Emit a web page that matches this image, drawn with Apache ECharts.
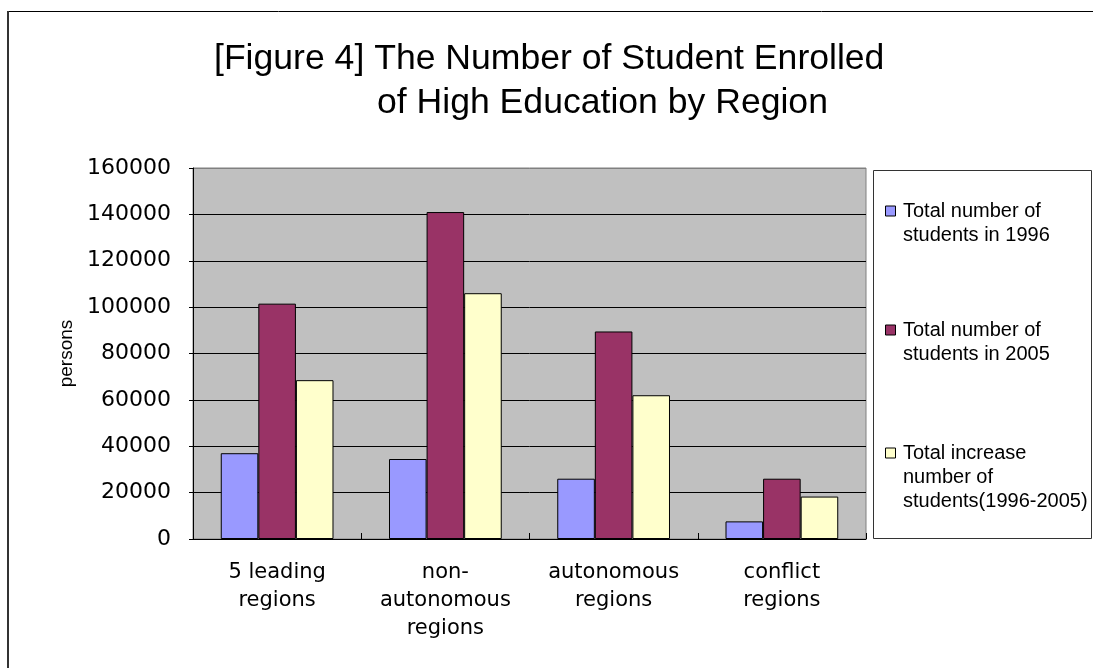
<!DOCTYPE html>
<html>
<head>
<meta charset="utf-8">
<title>Students Enrolled in Higher Education by Region</title>
<script src="https://cdn.jsdelivr.net/npm/echarts@6/dist/echarts.min.js"></script>
<style>
  html, body { margin: 0; padding: 0; background: #ffffff; }
  #chart { width: 1093px; height: 668px; }
</style>
</head>
<body>
<div id="chart"></div>
<script>
// Regions (x-axis categories)
var regions = ['5 leading\nregions', 'non-\nautonomous\nregions', 'autonomous\nregions', 'conflict\nregions'];

// Series names
var seriesNames = [
  'Total number of\nstudents in 1996',
  'Total number of\nstudents in 2005',
  'Total increase\nnumber of\nstudents(1996-2005)'
];

// Enrolled students (persons)
var students1996 = [37000, 34500, 26000, 7600];
var students2005 = [101500, 141000, 89500, 26000];
var increase9605 = [68500, 106000, 62000, 18300];

// Y-axis ticks
var yMin = 0, yMax = 160000, yStep = 20000;

var colors = ['#9999FF', '#993366', '#FFFFCC'];
var seriesData = [students1996, students2005, increase9605];

var chart = echarts.init(document.getElementById('chart'), null, { renderer: 'canvas' });

var series = seriesData.map(function (vals, i) {
  return {
    name: seriesNames[i],
    type: 'bar',
    data: vals,
    barGap: '0%',
    barCategoryGap: '33%',
    itemStyle: { color: colors[i], borderColor: '#000', borderWidth: 1 },
    emphasis: { disabled: true }
  };
});

// One legend per entry; leading blank lines keep the swatch level with
// the first line of each (multi-line) label.
var legendTops = [175, 294, 393];
var legends = seriesNames.map(function (n, i) {
  var lines = n.split('\n').length;
  var lead = new Array(lines).join('\n');
  return {
    data: [n],
    left: 885,
    top: legendTops[i],
    padding: 0,
    orient: 'vertical',
    itemWidth: 15,
    itemHeight: 10,
    symbolKeepAspect: true,
    selectedMode: false,
    icon: 'path://M0,0H10V10H0Z',
    itemStyle: { borderColor: '#000', borderWidth: 1 },
    formatter: function (name) { return lead + name; },
    textStyle: {
      fontFamily: 'Liberation Sans',
      fontSize: 20,
      lineHeight: 24,
      color: '#000'
    }
  };
});

// gridlines are black; the top edge of the plot stays grey
var splitColors = [];
for (var v = yMin; v <= yMax; v += yStep) splitColors.push(v === yMax ? '#808080' : '#000');

chart.setOption({
  animation: false,
  backgroundColor: '#ffffff',
  title: [
    {
      text: '[Figure 4] The Number of Student Enrolled',
      left: 214, top: 39,
      padding: 0,
      textStyle: { fontFamily: 'Liberation Sans', fontSize: 35.6, fontWeight: 'normal', color: '#000', lineHeight: 40 }
    },
    {
      text: 'of High Education by Region',
      left: 377, top: 83,
      padding: 0,
      textStyle: { fontFamily: 'Liberation Sans', fontSize: 35.6, fontWeight: 'normal', color: '#000', lineHeight: 40 }
    }
  ],
  legend: legends,
  grid: {
    left: 193, right: 227, top: 168, bottom: 129,
    show: true,
    backgroundColor: '#C0C0C0',
    borderColor: '#808080',
    borderWidth: 1
  },
  xAxis: {
    type: 'category',
    data: regions,
    boundaryGap: true,
    axisLine: { lineStyle: { color: '#000', width: 1 } },
    axisTick: { show: true, inside: true, length: 6, lineStyle: { color: '#000' } },
    axisLabel: {
      interval: 0,
      margin: 20,
      fontFamily: 'DejaVu Sans',
      fontSize: 21,
      lineHeight: 28,
      color: '#000'
    }
  },
  yAxis: {
    type: 'value',
    min: yMin, max: yMax, interval: yStep,
    name: 'persons',
    nameLocation: 'middle',
    nameGap: 101,
    nameTextStyle: { fontFamily: 'Liberation Sans', fontSize: 19, color: '#000' },
    axisLine: { show: true, lineStyle: { color: '#000', width: 1 } },
    axisTick: { show: true, length: 4, lineStyle: { color: '#000' } },
    axisLabel: {
      margin: 22, fontFamily: 'DejaVu Sans', fontSize: 22, color: '#000',
      formatter: function (val) { return String(val); }
    },
    splitLine: { lineStyle: { color: splitColors, width: 1 } }
  },
  series: series,
  graphic: [
    // legend frame
    {
      type: 'rect', silent: true,
      shape: { x: 873.5, y: 170.5, width: 218, height: 368 },
      style: { fill: 'none', stroke: '#333', lineWidth: 1 }
    },
    // outer frame (top and left edges)
    {
      type: 'line', silent: true,
      shape: { x1: 7, y1: 11.5, x2: 1093, y2: 11.5 },
      style: { stroke: '#000', lineWidth: 1 }
    },
    {
      type: 'line', silent: true,
      shape: { x1: 8, y1: 11, x2: 8, y2: 668 },
      style: { stroke: '#333', lineWidth: 2 }
    }
  ]
});
</script>
</body>
</html>
